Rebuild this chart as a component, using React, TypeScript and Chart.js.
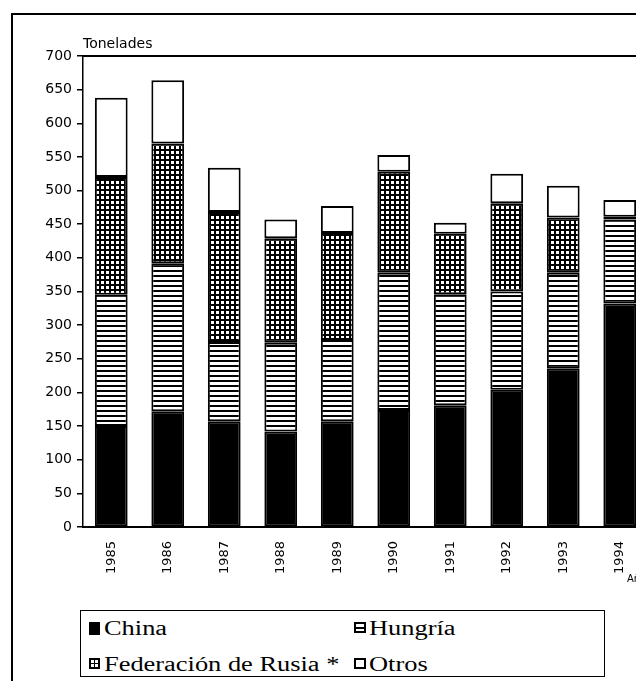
import React, { useEffect, useRef } from "react";
import { Chart, registerables } from "chart.js";

Chart.register(...registerables);

const years = ["1985", "1986", "1987", "1988", "1989", "1990", "1991", "1992", "1993", "1994"];
const china = [150, 172, 157, 142, 157, 174, 181, 204, 236, 332];
const hungria = [195, 220, 118, 132, 121, 204, 165, 146, 142, 125];
const rusia = [175, 178, 193, 155, 159, 150, 90, 131, 82, 4];
const otros = [118, 94, 66, 28, 40, 25, 16, 44, 47, 25];
const yMin = 0;
const yMax = 700;
const yStep = 50;
const yTitle = "Tonelades";
const xTitle = "Años";

function makeLinesPattern(ctx: CanvasRenderingContext2D) {
  const c = document.createElement("canvas");
  c.width = 5;
  c.height = 5;
  const g = c.getContext("2d")!;
  g.fillStyle = "#fff";
  g.fillRect(0, 0, 5, 5);
  g.fillStyle = "#000";
  g.fillRect(0, 0, 5, 2);
  return ctx.createPattern(c, "repeat")!;
}

function makeGridPattern(ctx: CanvasRenderingContext2D) {
  const c = document.createElement("canvas");
  c.width = 5;
  c.height = 5;
  const g = c.getContext("2d")!;
  g.fillStyle = "#000";
  g.fillRect(0, 0, 5, 5);
  g.fillStyle = "#fff";
  g.fillRect(1, 1, 3, 3);
  return ctx.createPattern(c, "repeat")!;
}

const framePlugin = {
  id: "frame",
  afterDraw(chart: any) {
    const { ctx, chartArea, width } = chart;
    ctx.save();
    ctx.strokeStyle = "#000";
    ctx.lineWidth = 2;
    ctx.beginPath();
    ctx.moveTo(12, 681);
    ctx.lineTo(12, 14);
    ctx.lineTo(width, 14);
    ctx.stroke();
    ctx.lineWidth = 2;
    ctx.beginPath();
    ctx.moveTo(chartArea.left, chartArea.top);
    ctx.lineTo(width, chartArea.top);
    ctx.stroke();
    ctx.fillStyle = "#000";
    ctx.textBaseline = "alphabetic";
    ctx.textAlign = "left";
    ctx.font = "14px 'DejaVu Sans'";
    ctx.fillText(yTitle, chartArea.left, 48);
    ctx.font = "10px 'DejaVu Sans'";
    ctx.fillText(xTitle, 627, 582);
    ctx.restore();
  },
};

const legendText: React.CSSProperties = {
  position: "absolute",
  fontFamily: "'Liberation Serif', 'Times New Roman', serif",
  fontSize: 20,
  lineHeight: "20px",
  whiteSpace: "nowrap",
  color: "#000",
  transform: "scaleX(1.32)",
  transformOrigin: "left center",
};

export default function App() {
  const ref = useRef<HTMLCanvasElement>(null);

  useEffect(() => {
    const canvas = ref.current!;
    const ctx = canvas.getContext("2d")!;
    const linesPat = makeLinesPattern(ctx);
    const gridPat = makeGridPattern(ctx);
    const common = { borderColor: "#000", borderWidth: 2, borderSkipped: false as const };
    const chart = new Chart(canvas, {
      type: "bar",
      data: {
        labels: years,
        datasets: [
          { label: "China", data: china, backgroundColor: "#000", ...common },
          { label: "Hungría", data: hungria, backgroundColor: linesPat as any, ...common },
          { label: "Federación de Rusia *", data: rusia, backgroundColor: gridPat as any, ...common },
          { label: "Otros", data: otros, backgroundColor: "#fff", ...common },
        ],
      },
      options: {
        animation: false,
        responsive: false,
        devicePixelRatio: 1,
        layout: { padding: { left: 0, top: 56, right: 12, bottom: 104 } },
        datasets: { bar: { categoryPercentage: 1, barPercentage: 0.58 } },
        plugins: { legend: { display: false }, tooltip: { enabled: false } },
        scales: {
          x: {
            stacked: true,
            grid: { display: false, drawTicks: false },
            border: { display: true, color: "#000", width: 2 },
            ticks: {
              minRotation: 90,
              maxRotation: 90,
              padding: 14,
              color: "#000",
              font: { family: "'DejaVu Sans'", size: 13 },
            },
            afterFit: (s: any) => {
              s.height = 50;
            },
          },
          y: {
            stacked: true,
            min: yMin,
            max: yMax,
            ticks: {
              stepSize: yStep,
              padding: 5,
              color: "#000",
              font: { family: "'DejaVu Sans'", size: 14 },
            },
            grid: { drawOnChartArea: false, drawTicks: true, tickLength: 6, color: "#000", lineWidth: 1.5 },
            border: { display: true, color: "#000", width: 1.5 },
            afterFit: (s: any) => {
              s.width = 83;
            },
          },
        },
      },
      plugins: [framePlugin],
    });
    return () => chart.destroy();
  }, []);

  return (
    <div
      style={{
        position: "absolute",
        left: 0,
        top: 0,
        width: 636,
        height: 681,
        overflow: "hidden",
        background: "#fff",
      }}
    >
      <canvas ref={ref} width={660} height={681} style={{ display: "block" }} />
      <div
        style={{
          position: "absolute",
          left: 80,
          top: 610,
          width: 525,
          height: 67,
          border: "1.5px solid #000",
          boxSizing: "border-box",
          background: "#fff",
        }}
      >
        <div style={{ position: "absolute", left: 8, top: 11, width: 11, height: 13, background: "#000" }} />
        <span style={{ ...legendText, left: 23, top: 7 }}>China</span>

        <div
          style={{
            position: "absolute",
            left: 273,
            top: 11,
            width: 12,
            height: 11,
            border: "2px solid #000",
            boxSizing: "border-box",
            background: "linear-gradient(#fff 0, #fff 3px, #000 3px, #000 5px, #fff 5px)",
          }}
        />
        <span style={{ ...legendText, left: 288, top: 7 }}>Hungría</span>

        <div style={{ position: "absolute", left: 8, top: 47, width: 11, height: 11, background: "#000" }}>
          <div style={{ position: "absolute", left: 2, top: 2, width: 3, height: 3, background: "#fff" }} />
          <div style={{ position: "absolute", left: 6, top: 2, width: 3, height: 3, background: "#fff" }} />
          <div style={{ position: "absolute", left: 2, top: 6, width: 3, height: 3, background: "#fff" }} />
          <div style={{ position: "absolute", left: 6, top: 6, width: 3, height: 3, background: "#fff" }} />
        </div>
        <span style={{ ...legendText, left: 23, top: 43 }}>Federación de Rusia *</span>

        <div
          style={{
            position: "absolute",
            left: 273,
            top: 47,
            width: 12,
            height: 11,
            border: "2px solid #000",
            boxSizing: "border-box",
            background: "#fff",
          }}
        />
        <span style={{ ...legendText, left: 288, top: 43 }}>Otros</span>
      </div>
    </div>
  );
}
